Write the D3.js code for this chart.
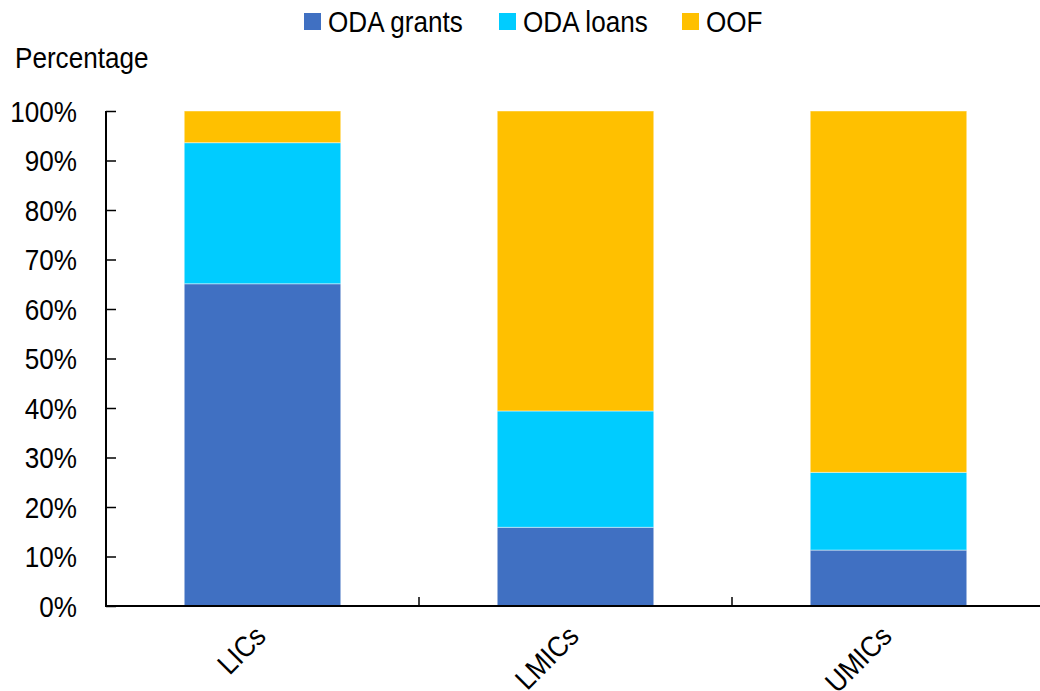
<!DOCTYPE html>
<html>
<head>
<meta charset="utf-8">
<script src="https://cdn.jsdelivr.net/npm/d3@7"></script>
<style>
  body { margin: 0; background: #fff; }
  svg text { font-family: "Liberation Sans", Arial, sans-serif; fill: #000; }
</style>
</head>
<body>
<div id="chart"></div>
<script>
// chart values (percent of total)
const categories = ["LICs", "LMICs", "UMICs"];
const seriesNames = ["ODA grants", "ODA loans", "OOF"];
const odaGrants = [65.1, 15.9, 11.3];
const odaLoans = [28.5, 23.5, 15.7];
const oof = [6.4, 60.6, 73.0];
const yTicks = [0, 10, 20, 30, 40, 50, 60, 70, 80, 90, 100];
const colors = ["#4070C2", "#00CCFF", "#FFC000"];

const width = 1040, height = 691;
const margin = {top: 111, right: 0, bottom: 85, left: 106};
const fontSize = "29px";
const squeeze = "scale(0.9,1)"; // reference text is a bit condensed

const svg = d3.select("#chart").append("svg")
    .attr("width", width)
    .attr("height", height);

// build rows for the stack
let rows = categories.map((c, i) => ({
    cat: c,
    "ODA grants": odaGrants[i],
    "ODA loans": odaLoans[i],
    "OOF": oof[i]
}));
let stacked = d3.stack().keys(seriesNames)(rows);

let x = d3.scaleBand()
    .domain(categories)
    .range([margin.left, width - 1 + 6])
    .paddingInner(0)
    .paddingOuter(0);

let y = d3.scaleLinear()
    .domain([0, 100])
    .range([height - margin.bottom, margin.top]);

let barW = x.bandwidth() * 0.5;

// bars
svg.append("g").selectAll("g")
    .data(stacked)
    .join("g")
    .attr("fill", (d, i) => colors[i])
    .selectAll("rect")
    .data(d => d)
    .join("rect")
    .attr("x", d => x(d.data.cat) + (x.bandwidth() - barW) / 2)
    .attr("y", d => y(d[1]))
    .attr("width", barW)
    .attr("height", d => y(d[0]) - y(d[1]))
    .attr("stroke", "#ffffff")
    .attr("stroke-opacity", 0.45)
    .attr("stroke-width", 1);

// y axis
let yAxis = svg.append("g")
    .attr("transform", `translate(${margin.left},0)`)
    .call(d3.axisRight(y).tickValues(yTicks).tickSize(10).tickFormat(d => d + "%"));
yAxis.select(".domain").attr("stroke", "#000").attr("stroke-width", 2)
    .attr("d", `M0,${y(100)}V${y(0)}`);
yAxis.selectAll(".tick line").attr("stroke", "#000").attr("stroke-width", 1.5);
yAxis.selectAll(".tick text")
    .attr("x", 0)
    .attr("transform", `translate(-29,0) ${squeeze}`)
    .attr("dy", "0.36em")
    .attr("text-anchor", "end")
    .style("font-size", fontSize);

// x axis
let xAxisG = svg.append("g")
    .attr("transform", `translate(0,${y(0)})`);
xAxisG.append("line")
    .attr("x1", margin.left - 1).attr("x2", width)
    .attr("stroke", "#000").attr("stroke-width", 2);
let bounds = categories.slice(1).map(c => x(c));
xAxisG.selectAll(".xtick")
    .data(bounds)
    .join("line")
    .attr("class", "xtick")
    .attr("x1", d => d).attr("x2", d => d)
    .attr("y1", 0).attr("y2", -9)
    .attr("stroke", "#000").attr("stroke-width", 1.5);
xAxisG.selectAll(".xlab")
    .data(categories)
    .join("text")
    .attr("class", "xlab")
    .attr("transform", d => `translate(${x(d) + x.bandwidth() / 2 + 5},${32}) rotate(-45) ${squeeze}`)
    .attr("text-anchor", "end")
    .style("font-size", fontSize)
    .text(d => d);

// y title
svg.append("text")
    .attr("transform", `translate(15,68) ${squeeze}`)
    .style("font-size", fontSize)
    .text("Percentage");

// legend
let legendX = [304, 499, 682];
let legend = svg.append("g").selectAll("g")
    .data(seriesNames)
    .join("g")
    .attr("transform", (d, i) => `translate(${legendX[i]},0)`);
legend.append("rect")
    .attr("x", 0).attr("y", 13)
    .attr("width", 17).attr("height", 17)
    .attr("fill", (d, i) => colors[i]);
legend.append("text")
    .attr("transform", `translate(24,31.5) ${squeeze}`)
    .style("font-size", fontSize)
    .text(d => d);
</script>
</body>
</html>
